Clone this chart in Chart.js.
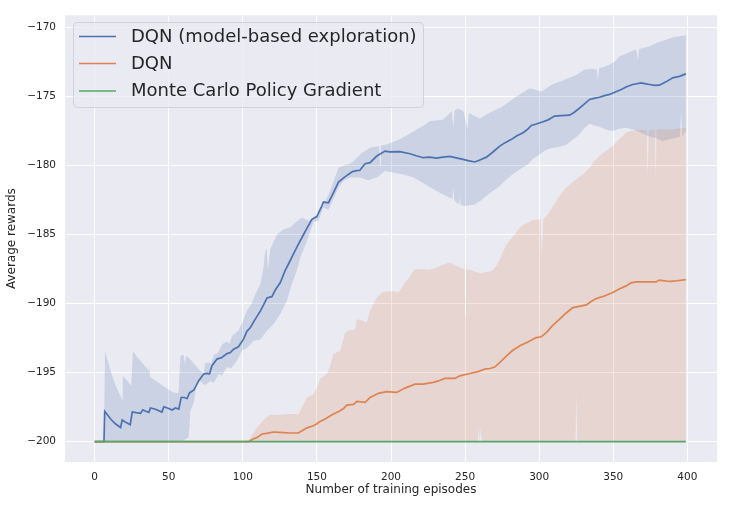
<!DOCTYPE html>
<html>
<head>
<meta charset="utf-8">
<script src="https://cdn.jsdelivr.net/npm/chart.js@4.4.1/dist/chart.umd.min.js"></script>
<style>
  html, body { margin: 0; padding: 0; background: #ffffff; }
  #wrap { width: 730px; height: 506px; }
</style>
</head>
<body>
<div id="wrap"><canvas id="c" width="730" height="506"></canvas></div>
<script>
// ---- tick labels / categories ----
const episodeTicks = [0, 50, 100, 150, 200, 250, 300, 350, 400];
const rewardTicks = [-200, -195, -190, -185, -180, -175, -170];
const seriesNames = ['DQN (model-based exploration)', 'DQN', 'Monte Carlo Policy Gradient'];
const xLabel = 'Number of training episodes';
const yLabel = 'Average rewards';

// ---- DQN (model-based exploration): [episode, reward] ----
const blueMean = [[0,-200],[6.3,-200],[6.8,-197.8],[10.8,-198.36],[14,-198.7],[17.5,-198.97],[18.6,-198.43],[21,-198.6],[24,-198.77],[25.4,-197.85],[28,-197.9],[31,-197.95],[32.5,-197.69],[34.5,-197.8],[36.6,-197.88],[37.7,-197.56],[41,-197.65],[45.4,-197.85],[46.7,-197.47],[50,-197.6],[52.3,-197.71],[54.5,-197.56],[56.8,-197.64],[58.4,-196.8],[60.5,-196.8],[62.4,-196.87],[64,-196.47],[67,-196.26],[70.2,-195.59],[73.6,-195.1],[76,-195.05],[77.5,-195.1],[79.2,-194.5],[82.6,-194.02],[85.9,-193.9],[89.3,-193.62],[91.6,-193.55],[93.8,-193.3],[97,-193.13],[100.5,-192.58],[102.8,-192.0],[105,-191.75],[108,-191.2],[111.8,-190.55],[114,-190.1],[116.3,-189.6],[119.6,-189.5],[122,-189.0],[125.3,-188.48],[128.6,-187.6],[131,-187.1],[134.2,-186.4],[137,-185.8],[141,-185.0],[143.5,-184.5],[146.6,-183.9],[149.9,-183.7],[153.3,-182.94],[154.4,-182.65],[157.8,-182.7],[161.2,-181.97],[164.6,-181.2],[168,-180.9],[171.2,-180.65],[174,-180.45],[176.9,-180.37],[179,-180.35],[182.5,-179.88],[185.9,-179.8],[190.4,-179.32],[196,-178.96],[199,-179.02],[206,-179.0],[212.8,-179.15],[217,-179.3],[221.8,-179.44],[226,-179.4],[230.7,-179.47],[235,-179.4],[239.7,-179.35],[244,-179.45],[248.7,-179.56],[252,-179.65],[256.6,-179.75],[260,-179.6],[264.4,-179.4],[268,-179.1],[273.4,-178.6],[277,-178.35],[281.3,-178.11],[285,-177.85],[289.1,-177.63],[292,-177.4],[294.7,-177.1],[298,-177.0],[302.6,-176.84],[306,-176.7],[310.4,-176.43],[315,-176.4],[320.5,-176.36],[323,-176.2],[326.1,-175.95],[330,-175.6],[334,-175.22],[337,-175.15],[340.7,-175.06],[344,-174.95],[347.5,-174.86],[351,-174.7],[355.4,-174.5],[359,-174.3],[363.2,-174.14],[368.9,-174.02],[372,-174.1],[374.5,-174.14],[378,-174.2],[381.1,-174.19],[385.6,-173.95],[390.1,-173.66],[394.6,-173.55],[399,-173.37]];
const blueHigh = [[0,-200],[6.3,-200],[7,-193.4],[10,-194.6],[13,-195.6],[16,-196.4],[18.5,-196.9],[19,-195.23],[22,-195.6],[24.7,-195.95],[25.8,-193.47],[29,-193.9],[33,-194.4],[36.6,-194.87],[37,-194.55],[37.3,-195.3],[40,-195.5],[44,-195.8],[48,-196.1],[53.4,-196.44],[56.6,-196.5],[57.9,-193.78],[60,-193.7],[61,-194.4],[61.8,-193.78],[65,-194.1],[69,-194.6],[73.6,-195.1],[74.5,-194.3],[77,-194.27],[78.5,-194.4],[80.7,-193.66],[83,-193.6],[86,-192.94],[89.3,-192.75],[91,-192.9],[92.7,-192.34],[97,-191.97],[100,-191.3],[102.8,-190.5],[106,-190.0],[109,-189.2],[111.8,-188.6],[114,-187.4],[115,-186.3],[116,-186.0],[117,-187.6],[118.5,-186.07],[123,-185.0],[127.6,-184.62],[132,-184.5],[136,-184.1],[139.8,-183.78],[144.3,-184.0],[149.9,-183.7],[154.4,-182.9],[158.9,-181.85],[164.6,-180.16],[168,-180.0],[172.4,-179.88],[174.6,-179.7],[180.3,-179.1],[185.9,-178.72],[192,-178.6],[192.6,-180.0],[193.2,-178.55],[197,-178.48],[206,-178.11],[211,-177.8],[217.3,-177.39],[222,-177.1],[226.3,-176.79],[231,-176.75],[235.2,-176.67],[238,-176.4],[240.9,-176.07],[242,-177.27],[243,-176.0],[245.4,-175.88],[249,-176.1],[251.6,-177.39],[252.5,-176.2],[256,-176.4],[260,-176.6],[263,-176.4],[267.8,-176.12],[274.5,-175.78],[279,-175.45],[283.5,-175.1],[288,-174.8],[293.6,-174.42],[297,-174.5],[301.5,-174.67],[305,-174.4],[309.3,-174.1],[315,-173.9],[320.5,-173.66],[325,-173.45],[330.6,-173.06],[335,-173.0],[339,-173.05],[339.6,-173.9],[340.5,-172.95],[344,-172.85],[347.5,-172.7],[351,-172.5],[354.2,-172.1],[360,-171.85],[365.4,-171.6],[366.6,-172.4],[367.5,-171.55],[370,-171.5],[374.4,-171.37],[380,-171.1],[385.6,-170.9],[390.1,-170.72],[395,-170.65],[399,-170.57]];
const blueLow = [[0,-200],[57.9,-200],[60,-199.9],[63.5,-199.7],[64.6,-197.76],[66.9,-197.16],[69,-195.6],[71,-195.6],[74,-195.9],[76,-195.8],[78,-195.6],[80.4,-195.75],[83.7,-195.1],[86,-195.2],[89.3,-194.6],[92,-194.7],[96,-194.14],[99.4,-193.4],[103,-193.2],[107.3,-192.7],[111.8,-192.6],[116,-192.0],[120.7,-191.5],[125,-190.8],[129.8,-189.8],[133,-188.6],[136.5,-187.6],[138.7,-186.7],[143.2,-185.47],[147.7,-184.1],[151,-184.0],[154.4,-183.05],[157.8,-183.2],[160,-182.7],[164.6,-181.6],[168,-181.1],[172.4,-180.87],[179,-180.87],[184.7,-181.08],[190.4,-180.87],[196,-180.4],[206,-180.6],[215,-180.85],[222.9,-181.37],[230.7,-181.85],[239.7,-182.33],[241.5,-182.4],[242,-181.6],[242.8,-182.5],[244.2,-182.7],[246,-182.8],[246.5,-182.2],[247,-182.85],[249.8,-182.94],[256.6,-182.82],[260,-182.6],[264.4,-182.2],[268,-181.9],[273.4,-181.49],[278,-181.0],[283.5,-180.53],[288,-180.2],[292.5,-179.92],[296,-179.5],[300.3,-179.2],[304,-178.9],[309.3,-178.72],[314,-178.65],[318.3,-178.5],[323,-178.1],[327.3,-177.75],[330,-177.35],[334,-176.99],[337,-177.1],[340.7,-177.2],[345,-177.4],[349.7,-177.51],[354,-177.35],[358.7,-177.27],[363.2,-177.4],[368,-177.6],[373.3,-177.87],[378,-178.0],[383.4,-178.24],[388,-178.1],[392.4,-178.0],[395,-177.9],[395.8,-176.07],[396.5,-177.9],[399,-177.5]];

// ---- DQN ----
const orangeMean = [[0,-200],[104,-200],[105.5,-199.9],[107,-199.8],[109.6,-199.7],[111,-199.6],[113,-199.44],[116,-199.4],[120.7,-199.3],[125,-199.33],[132,-199.37],[137.6,-199.37],[140,-199.2],[143.2,-199.0],[147.7,-198.85],[150,-198.7],[152.2,-198.53],[155.6,-198.36],[158,-198.2],[161.2,-198.0],[165.7,-197.76],[168,-197.6],[170.2,-197.35],[174.7,-197.3],[176.9,-197.09],[182.5,-197.16],[185.9,-196.8],[191.5,-196.5],[197,-196.38],[203.8,-196.43],[209.4,-196.12],[216.2,-195.83],[221.8,-195.83],[228.5,-195.71],[232,-195.6],[236.4,-195.42],[243.1,-195.42],[246.5,-195.23],[253.2,-195.06],[258.8,-194.93],[263.3,-194.74],[266.7,-194.7],[270,-194.6],[274,-194.2],[278,-193.78],[282,-193.4],[287,-193.06],[292,-192.8],[298,-192.46],[301.5,-192.4],[304.8,-192.1],[309,-191.6],[313.8,-191.13],[318,-190.7],[322.8,-190.29],[327,-190.2],[331.8,-190.1],[335,-189.85],[338.5,-189.64],[344,-189.45],[349.7,-189.2],[354,-188.95],[358.7,-188.72],[362,-188.5],[365.4,-188.43],[372,-188.42],[378.9,-188.43],[381,-188.3],[388,-188.4],[393,-188.35],[399,-188.26]];
const orangeHigh = [[0,-200],[93.8,-200],[100,-199.95],[104,-199.9],[105,-199.7],[107,-199.4],[109.6,-198.97],[114,-198.43],[118.5,-198.05],[125,-198.05],[132,-198.0],[137.6,-198.0],[140,-197.5],[143.2,-196.8],[147.7,-196.55],[150,-196.1],[152.2,-195.47],[156.7,-195.1],[159,-194.5],[161.2,-193.66],[165.7,-193.42],[167,-192.9],[169,-192.1],[172.4,-191.92],[175.8,-191.9],[176.9,-191.13],[180,-191.2],[183.6,-191.37],[185.9,-190.53],[188,-190.0],[190.4,-189.57],[193.8,-189.2],[197,-189.13],[201.5,-189.1],[204.9,-189.2],[207,-188.9],[209.4,-188.48],[211.6,-188.24],[214,-187.8],[216.2,-187.5],[221.8,-187.5],[226.3,-187.55],[230.7,-187.4],[234,-187.25],[238.6,-187.04],[241,-187.1],[244.2,-187.28],[247,-187.4],[249.8,-187.5],[250.1,-190.9],[250.6,-187.5],[253.2,-187.55],[257,-187.7],[261,-187.83],[264,-187.7],[266.7,-187.7],[269,-187.55],[272,-187.1],[275,-186.4],[278,-185.7],[282,-185.2],[287,-184.5],[291,-184.2],[296,-183.95],[301,-183.9],[301.8,-186.8],[302.8,-183.9],[306,-183.5],[309,-183.0],[311.6,-182.57],[315,-182.0],[318.3,-181.6],[322,-181.25],[325.1,-181.0],[330,-180.6],[334,-180.16],[337,-179.7],[340.7,-179.32],[345,-178.95],[349.7,-178.6],[353,-178.2],[356.4,-177.87],[359,-177.6],[362,-177.5],[367,-177.45],[372.5,-177.45],[373.2,-180.9],[374,-177.45],[378,-177.45],[378.6,-180.9],[379.3,-177.4],[385.6,-177.39],[392,-177.35],[399,-177.27]];
const orangeLow = [[0,-200],[258.5,-200],[259.2,-199.0],[259.9,-200],[260.6,-199.0],[261.3,-200],[324.5,-200],[325.1,-196.5],[325.7,-200],[399,-200]];

// ---- Monte Carlo Policy Gradient ----
const greenMean = [[0,-200],[399,-200]];

const colors = ['#4C72B0', '#DD8452', '#55A868'];
const bandColors = ['rgba(76,114,176,0.2)', 'rgba(221,132,82,0.2)'];

const pts = arr => arr.map(p => ({x: p[0], y: p[1]}));
const fmt = v => String(v).replace('-', '\u2212');

const meanLine = (label, data, color, order) => ({
  label, data: pts(data), borderColor: color, backgroundColor: color,
  borderWidth: 1.7, pointRadius: 0, tension: 0, fill: false, order, isMean: true
});
const bandEdge = (data, fill, bg, order) => ({
  label: '', data: pts(data), borderColor: 'rgba(0,0,0,0)', borderWidth: 0,
  backgroundColor: bg, pointRadius: 0, tension: 0, fill, order, isMean: false
});

const bgPlugin = {
  id: 'bg',
  beforeDraw(chart) {
    const {ctx, chartArea: a} = chart;
    ctx.save();
    ctx.fillStyle = '#ffffff';
    ctx.fillRect(0, 0, chart.width, chart.height);
    ctx.fillStyle = '#EAEAF2';
    ctx.fillRect(a.left, a.top, a.right - a.left, a.bottom - a.top);
    ctx.restore();
  }
};

const legendPlugin = {
  id: 'mplLegend',
  afterDraw(chart) {
    const {ctx} = chart;
    const items = chart.data.datasets.filter(d => d.isMean);
    const x = 73.5, y = 22.5, w = 350, h = 85, r = 4;
    ctx.save();
    ctx.beginPath();
    ctx.moveTo(x + r, y);
    ctx.lineTo(x + w - r, y); ctx.arcTo(x + w, y, x + w, y + r, r);
    ctx.lineTo(x + w, y + h - r); ctx.arcTo(x + w, y + h, x + w - r, y + h, r);
    ctx.lineTo(x + r, y + h); ctx.arcTo(x, y + h, x, y + h - r, r);
    ctx.lineTo(x, y + r); ctx.arcTo(x, y, x + r, y, r);
    ctx.closePath();
    ctx.fillStyle = 'rgba(234,234,242,0.8)';
    ctx.fill();
    ctx.strokeStyle = 'rgba(204,204,204,0.8)';
    ctx.lineWidth = 1;
    ctx.stroke();
    const rowY = [36.5, 63.5, 91];
    items.forEach((d, i) => {
      ctx.beginPath();
      ctx.moveTo(79, rowY[i]);
      ctx.lineTo(116, rowY[i]);
      ctx.strokeStyle = d.borderColor;
      ctx.lineWidth = 1.7;
      ctx.stroke();
      ctx.fillStyle = '#262626';
      ctx.font = '18px "DejaVu Sans"';
      ctx.textBaseline = 'middle';
      ctx.textAlign = 'left';
      ctx.fillText(d.label, 131, rowY[i] + 0.5);
    });
    ctx.restore();
  }
};

new Chart(document.getElementById('c'), {
  type: 'line',
  data: {
    datasets: [
      meanLine(seriesNames[0], blueMean, colors[0], 3),
      bandEdge(blueHigh, 2, bandColors[0], 4),
      bandEdge(blueLow, false, bandColors[0], 4),
      meanLine(seriesNames[1], orangeMean, colors[1], 1),
      bandEdge(orangeHigh, 5, bandColors[1], 2),
      bandEdge(orangeLow, false, bandColors[1], 2),
      meanLine(seriesNames[2], greenMean, colors[2], 0)
    ]
  },
  options: {
    responsive: false,
    devicePixelRatio: 1,
    animation: false,
    events: [],
    layout: { padding: { top: 14, right: 13, left: 0, bottom: 0 } },
    plugins: {
      legend: { display: false },
      tooltip: { enabled: false },
      filler: { propagate: false }
    },
    scales: {
      x: {
        type: 'linear',
        min: -20, max: 420,
        afterFit: s => { s.height = 44; },
        afterBuildTicks: s => { s.ticks = episodeTicks.map(v => ({value: v})); },
        grid: { color: '#ffffff', lineWidth: 1, drawTicks: false },
        border: { display: false },
        ticks: { padding: 9, color: '#262626', font: { family: 'DejaVu Sans', size: 10.5 }, callback: v => fmt(v), maxRotation: 0 },
        title: { display: true, text: xLabel, color: '#262626', font: { family: 'DejaVu Sans', size: 12 }, padding: { top: 0, bottom: 9 } }
      },
      y: {
        type: 'linear',
        min: -201.47, max: -169.13,
        afterFit: s => { s.width = 65; },
        afterBuildTicks: s => { s.ticks = rewardTicks.map(v => ({value: v})); },
        grid: { color: '#ffffff', lineWidth: 1, drawTicks: false },
        border: { display: false },
        ticks: { padding: 9, color: '#262626', font: { family: 'DejaVu Sans', size: 10.5 }, callback: v => fmt(v) },
        title: { display: true, text: yLabel, color: '#262626', font: { family: 'DejaVu Sans', size: 12 }, padding: { top: 5, bottom: 0 } }
      }
    }
  },
  plugins: [bgPlugin, legendPlugin]
});
</script>
</body>
</html>
